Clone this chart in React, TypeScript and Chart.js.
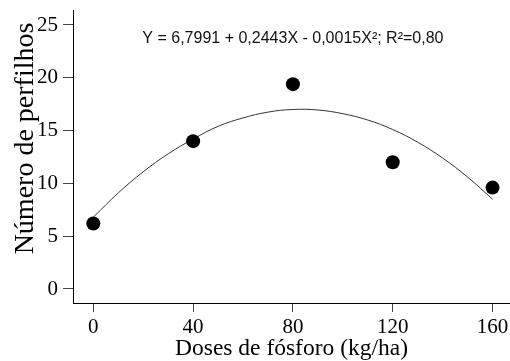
import { useEffect, useRef } from "react";
import { Chart, registerables } from "chart.js";

Chart.register(...registerables);

// Observed means (points)
const doses = [0, 40, 80, 120, 160];
const perfilhos = [6.2, 14.0, 19.4, 12.0, 9.6];

// Fitted curve, values
const curveDoses = [0, 10, 20, 30, 40, 50, 60, 70, 80, 90, 100, 110, 120, 130, 140, 150, 160];
const curveValues = [6.8, 9.1, 11.1, 12.8, 14.2, 15.4, 16.2, 16.75, 17.0, 16.95, 16.6, 16.0, 15.1, 13.9, 12.4, 10.6, 8.5];

const xTicks = [0, 40, 80, 120, 160];
const yTicks = [0, 5, 10, 15, 20, 25];

const equationText = "Y = 6,7991 + 0,2443X - 0,0015X²; R²=0,80";
const equationAt = { x: 80, y: 23.3 };
const xTitle = "Doses de fósforo (kg/ha)";
const yTitle = "Número de perfilhos";

const SERIF = '"Liberation Serif", "Times New Roman", serif';
const SANS = '"Liberation Sans", Arial, sans-serif';

const textPlugin = {
  id: "texts",
  afterDraw(chart: any) {
    const { ctx, scales } = chart;
    const x = scales.x;
    const y = scales.y;
    ctx.save();
    ctx.font = `16px ${SANS}`;
    ctx.fillStyle = "#111";
    ctx.textAlign = "center";
    ctx.textBaseline = "alphabetic";
    ctx.fillText(equationText, x.getPixelForValue(equationAt.x), y.getPixelForValue(equationAt.y));
    ctx.restore();

    // y-axis title (placed slightly above the axis centre, as in the original)
    ctx.save();
    ctx.font = `28px ${SERIF}`;
    ctx.fillStyle = "#000";
    ctx.textAlign = "center";
    ctx.textBaseline = "alphabetic";
    ctx.translate(33, 138.5);
    ctx.rotate(-Math.PI / 2);
    ctx.fillText(yTitle, 0, 0);
    ctx.restore();
  },
};

const zeroPad = (s: any) => {
  s.paddingLeft = 0;
  s.paddingRight = 0;
  s.paddingTop = 0;
  s.paddingBottom = 0;
};

export default function App() {
  const ref = useRef<HTMLCanvasElement | null>(null);

  useEffect(() => {
    if (!ref.current) return;
    const chart = new Chart(ref.current, {
      type: "scatter",
      data: {
        datasets: [
          {
            type: "line",
            data: curveDoses.map((d, i) => ({ x: d, y: curveValues[i] })),
            borderColor: "#333",
            borderWidth: 1,
            pointRadius: 0,
            tension: 0.4,
            fill: false,
            order: 2,
          } as any,
          {
            type: "scatter",
            data: doses.map((d, i) => ({ x: d, y: perfilhos[i] })),
            backgroundColor: "#000",
            borderColor: "#000",
            pointRadius: 7,
            borderWidth: 0,
            order: 1,
          } as any,
        ],
      },
      options: {
        animation: false,
        responsive: false,
        maintainAspectRatio: false,
        devicePixelRatio: 1,
        layout: { autoPadding: false, padding: { top: 10, left: 0, right: 0, bottom: 0 } },
        plugins: {
          legend: { display: false },
          tooltip: { enabled: false },
        },
        scales: {
          x: {
            type: "linear",
            min: -8.14,
            max: 167,
            afterBuildTicks: (s: any) => {
              s.ticks = xTicks.map((v) => ({ value: v }));
            },
            afterFit: (s: any) => {
              s.height = 58;
              zeroPad(s);
            },
            ticks: {
              font: { family: SERIF, size: 21, lineHeight: 1 },
              color: "#000",
              padding: 5,
            },
            grid: {
              drawOnChartArea: false,
              drawTicks: true,
              tickLength: 9,
              color: "#444",
              lineWidth: 1,
            },
            border: { display: true, color: "#000", width: 1 },
            title: {
              display: true,
              text: xTitle,
              color: "#000",
              font: { family: SERIF, size: 23.5, lineHeight: 1 },
              padding: { top: 0, bottom: 0 },
            },
          },
          y: {
            type: "linear",
            min: -1.326,
            max: 26.42,
            afterBuildTicks: (s: any) => {
              s.ticks = yTicks.map((v) => ({ value: v }));
            },
            afterFit: (s: any) => {
              s.width = 73;
              zeroPad(s);
            },
            ticks: {
              font: { family: SERIF, size: 21, lineHeight: 1 },
              color: "#000",
              padding: 5,
            },
            grid: {
              drawOnChartArea: false,
              drawTicks: true,
              tickLength: 10,
              color: "#444",
              lineWidth: 1,
            },
            border: { display: true, color: "#000", width: 1 },
            title: { display: false },
          },
        },
      },
      plugins: [textPlugin],
    } as any);
    return () => chart.destroy();
  }, []);

  return (
    <div style={{ position: "absolute", left: 0, top: 0, width: 510, height: 361, overflow: "hidden", background: "#fff" }}>
      <canvas ref={ref} width={510} height={361} style={{ display: "block", width: 510, height: 361 }} />
    </div>
  );
}
